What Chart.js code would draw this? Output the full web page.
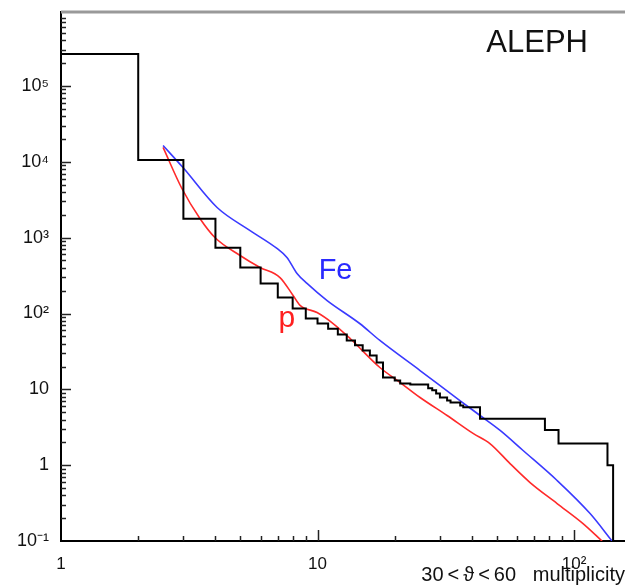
<!DOCTYPE html>
<html>
<head>
<meta charset="utf-8">
<script src="https://cdn.jsdelivr.net/npm/chart.js@4/dist/chart.umd.min.js"></script>
<style>
  body { margin: 0; background: #fff; }
  canvas { display: block; }
</style>
</head>
<body>
<canvas id="multChart" width="625" height="587"></canvas>
<script>
// ALEPH data: bin edges (multiplicity) and event counts per bin
const histEdges = [1, 2, 3, 4, 5, 6, 7, 8, 9, 10, 11, 12, 13, 14, 15, 16, 17, 18, 20, 21, 23, 27, 28, 29, 30, 32, 33, 36, 37, 43, 77, 87, 135, 142];
const histCounts = [264000, 10600, 1780, 738, 404, 249, 162, 116, 86, 74, 63, 53, 44, 38, 32.5, 28, 22.6, 14.3, 13.1, 11.9, 11.6, 10.3, 9.7, 8.8, 7.8, 7.1, 6.7, 6.1, 5.8, 4.1, 2.9, 1.93, 1.0];

// Fe primary simulation
const feX = [2.5, 2.99, 4.06, 5.46, 6.95, 7.6, 8.32, 9.1, 10.9, 14.6, 17.5, 25.1, 35.9, 43.0, 51.5, 63.3, 85.9, 115.5, 140.7];
const feY = [16400, 8400, 2500, 1240, 720, 548, 337, 249, 148, 73.8, 44.1, 17.7, 7.12, 4.52, 2.87, 1.56, 0.628, 0.23, 0.1];

// proton primary simulation
const pX = [2.5, 2.96, 3.48, 3.98, 4.99, 5.97, 7.14, 8.03, 8.55, 9.96, 11.5, 13.4, 17.5, 21.0, 25.1, 32.0, 40.4, 47.0, 56.3, 67.4, 85.9, 108.4, 128.6];
const pY = [15500, 4450, 1790, 1005, 582, 404, 298, 173, 128, 103, 73.8, 46.8, 19.4, 12.3, 7.8, 4.52, 2.62, 1.93, 1.05, 0.59, 0.312, 0.17, 0.1];

// tick labels (keyed by power of ten)
const yTickLabels = { "-1": "10⁻¹", "0": "1", "1": "10", "2": "10²", "3": "10³", "4": "10⁴", "5": "10⁵" };
const xTickLabels = { "0": "1", "1": "10", "2": "10²" };

function decade(v) {
    const l = Math.log10(v);
    const r = Math.round(l);
    return Math.abs(l - r) < 1e-6 ? r : null;
}

// 1..9 x 10^k between lo and hi
function logTickValues(lo, hi) {
    const out = [];
    for (let e = Math.floor(Math.log10(lo)); e <= Math.ceil(Math.log10(hi)); e++) {
        for (let m = 1; m < 10; m++) {
            const v = m * Math.pow(10, e);
            if (v >= lo && v <= hi) out.push({ v: v, major: m === 1 });
        }
    }
    return out;
}

// histogram as stepped line: left edge + count, then drop below the axis
const histPoints = histCounts.map((c, i) => ({ x: histEdges[i], y: c }));
histPoints.push({ x: histEdges[histEdges.length - 1], y: 0.01 });

const fePoints = feX.map((x, i) => ({ x: x, y: feY[i] }));
const pPoints = pX.map((x, i) => ({ x: x, y: pY[i] }));

// inside ticks, top frame line and text labels
const framePlugin = {
    id: "frame",
    afterDraw(chart) {
        const ctx = chart.ctx;
        const area = chart.chartArea;
        const xs = chart.scales.x;
        const ys = chart.scales.y;
        ctx.save();

        ctx.strokeStyle = "#999";
        ctx.lineWidth = 3;
        ctx.beginPath();
        ctx.moveTo(area.left, area.top);
        ctx.lineTo(area.right, area.top);
        ctx.stroke();

        ctx.strokeStyle = "#222";
        ctx.lineWidth = 1.5;
        logTickValues(ys.min, ys.max).forEach(t => {
            const py = Math.round(ys.getPixelForValue(t.v)) + 0.5;
            if (py < area.top + 3 || py > area.bottom - 1) return;
            ctx.beginPath();
            ctx.moveTo(area.left, py);
            ctx.lineTo(area.left + (t.major ? 10 : 5), py);
            ctx.stroke();
        });
        logTickValues(xs.min, xs.max).forEach(t => {
            const px = Math.round(xs.getPixelForValue(t.v)) + 0.5;
            if (px < area.left + 1 || px > area.right - 2) return;
            ctx.beginPath();
            ctx.moveTo(px, area.bottom);
            ctx.lineTo(px, area.bottom - (t.major ? 11 : 5));
            ctx.stroke();
        });

        ctx.textBaseline = "alphabetic";
        ctx.fillStyle = "#2a2aff";
        ctx.font = "29px 'Liberation Sans', Arial, sans-serif";
        ctx.fillText("Fe", xs.getPixelForValue(10.1), ys.getPixelForValue(281));

        ctx.fillStyle = "#ff2020";
        ctx.font = "30px 'Liberation Sans', Arial, sans-serif";
        ctx.fillText("p", xs.getPixelForValue(7.05), ys.getPixelForValue(66));

        ctx.fillStyle = "#111";
        ctx.font = "31px 'Liberation Sans', Arial, sans-serif";
        ctx.textAlign = "right";
        ctx.fillText("ALEPH", area.right - 37, area.top + 40);
        ctx.restore();
    }
};

const ctx = document.getElementById("multChart").getContext("2d");

const chart = new Chart(ctx, {
    type: "line",
    data: {
        datasets: [
            {
                label: "ALEPH",
                data: histPoints,
                stepped: "before",
                borderColor: "#000",
                borderWidth: 2,
                pointRadius: 0,
                fill: false
            },
            {
                label: "Fe",
                data: fePoints,
                borderColor: "#3a3aff",
                borderWidth: 1.6,
                pointRadius: 0,
                cubicInterpolationMode: "monotone",
                fill: false
            },
            {
                label: "p",
                data: pPoints,
                borderColor: "#ff2a2a",
                borderWidth: 1.6,
                pointRadius: 0,
                cubicInterpolationMode: "monotone",
                fill: false
            }
        ]
    },
    options: {
        responsive: false,
        animation: false,
        layout: { padding: { top: 12, right: 0, left: 0, bottom: 0 } },
        plugins: {
            legend: { display: false },
            tooltip: { enabled: false }
        },
        scales: {
            x: {
                type: "logarithmic",
                min: 1,
                max: 158,
                grid: { display: false, drawTicks: false },
                border: { display: true, color: "#000", width: 2 },
                ticks: {
                    autoSkip: false,
                    maxRotation: 0,
                    padding: 13,
                    color: "#111",
                    font: { family: "'Liberation Sans', Arial, sans-serif", size: 17 },
                    callback: v => {
                        const d = decade(v);
                        return d !== null && xTickLabels[d] !== undefined ? xTickLabels[d] : null;
                    }
                },
                title: {
                    display: true,
                    text: "30\u2009<\u2009ϑ\u2009<\u200960   multiplicity",
                    align: "end",
                    color: "#111",
                    padding: 0,
                    font: { family: "'Liberation Sans', Arial, sans-serif", size: 20 }
                },
                afterFit: scale => {
                    scale.height = 46;
                    scale.paddingRight = 0;
                }
            },
            y: {
                type: "logarithmic",
                min: 0.1,
                max: 946000,
                grid: { display: false, drawTicks: false },
                border: { display: true, color: "#000", width: 2 },
                ticks: {
                    autoSkip: false,
                    padding: 12,
                    color: "#111",
                    font: { family: "'Liberation Sans', Arial, sans-serif", size: 18 },
                    callback: v => {
                        const d = decade(v);
                        return d !== null && yTickLabels[d] !== undefined ? yTickLabels[d] : null;
                    }
                },
                afterFit: scale => {
                    scale.width = 61;
                    scale.paddingTop = 0;
                    scale.paddingBottom = 0;
                }
            }
        }
    },
    plugins: [framePlugin]
});
</script>
</body>
</html>
